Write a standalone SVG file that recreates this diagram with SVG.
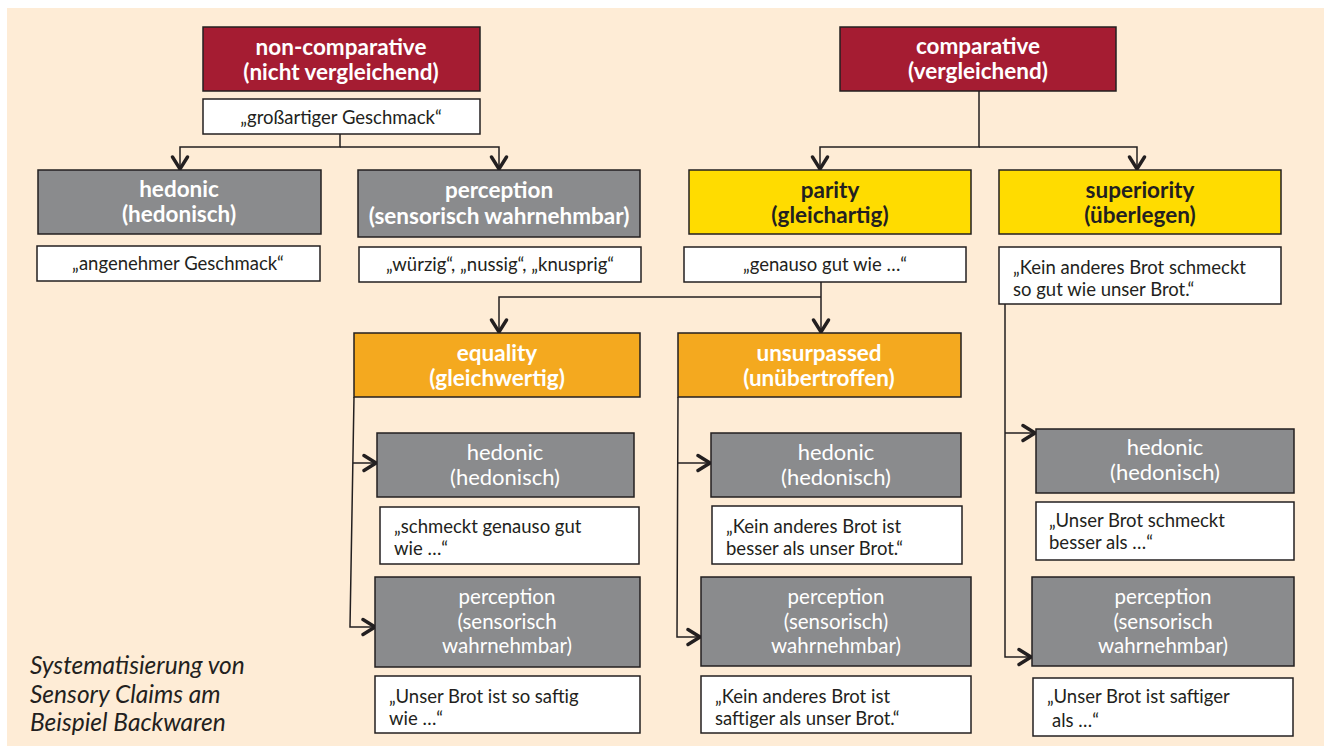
<svg xmlns="http://www.w3.org/2000/svg" width="1324" height="749" viewBox="0 0 1324 749">
<defs>
<marker id="chev" markerUnits="userSpaceOnUse" viewBox="0 0 18 20" refX="15" refY="10" markerWidth="18" markerHeight="20" orient="auto">
<path d="M3,2.5 L15,10 L3,17.5" fill="none" stroke="#231f20" stroke-width="3.4" stroke-linecap="round" stroke-linejoin="miter"/>
</marker>
<style>
.box{stroke:#231f20;stroke-width:1.5}
.red{fill:#a51c32}
.gray{fill:#8a8b8d}
.yel{fill:#ffdc00}
.org{fill:#f4a91f}
.wht{fill:#ffffff}
.t{font-family:Lato,"Open Sans","Liberation Sans",sans-serif}
.hb{font-size:22.5px;font-weight:bold;fill:#ffffff;text-anchor:middle}
.hd{font-size:22.5px;font-weight:bold;fill:#231f20;text-anchor:middle}
.hl{font-size:22px;fill:#ffffff;text-anchor:middle}
.h3{font-size:20.5px;fill:#ffffff;text-anchor:middle}
.q{font-size:18.5px;fill:#231f20}
.qc{font-size:18.5px;fill:#231f20;text-anchor:middle}
.cap{font-size:24.5px;font-style:italic;fill:#231f20}
.con{fill:none;stroke:#231f20;stroke-width:1.5}
</style>
</defs>
<rect x="7" y="8" width="1317" height="738" fill="#feecd6"/>

<g id="connectors">
<path class="con" d="M340,134 V147 H180 V169" marker-end="url(#chev)"/>
<path class="con" d="M340,147 H499 V169" marker-end="url(#chev)"/>
<path class="con" d="M979,91 V147 H820 V169" marker-end="url(#chev)"/>
<path class="con" d="M979,147 H1137 V169" marker-end="url(#chev)"/>
<path class="con" d="M821,282 V332" marker-end="url(#chev)"/>
<path class="con" d="M821,297 H499 V332" marker-end="url(#chev)"/>
<path class="con" d="M354,397 L350,627 H375" marker-end="url(#chev)"/>
<path class="con" d="M353,463 H376" marker-end="url(#chev)"/>
<path class="con" d="M678,397 L677,637 H700" marker-end="url(#chev)"/>
<path class="con" d="M678,463 H710" marker-end="url(#chev)"/>
<path class="con" d="M1005,304 V657 H1031" marker-end="url(#chev)"/>
<path class="con" d="M1005,433 H1035" marker-end="url(#chev)"/>
</g>

<g id="n-noncomp">
<rect class="box red" x="203" y="27" width="277" height="64"/>
<text class="t hb" x="341" y="55">non-comparative</text>
<text class="t hb" x="341" y="80">(nicht vergleichend)</text>
</g>
<g id="q-noncomp">
<rect class="box wht" x="203" y="99" width="277" height="35"/>
<text class="t qc" x="341" y="124">„großartiger Geschmack“</text>
</g>
<g id="n-hedonic1">
<rect class="box gray" x="38" y="170" width="283" height="64"/>
<text class="t hb" x="179" y="197">hedonic</text>
<text class="t hb" x="179" y="222">(hedonisch)</text>
</g>
<g id="q-hedonic1">
<rect class="box wht" x="37" y="246" width="283" height="35"/>
<text class="t qc" x="178" y="270">„angenehmer Geschmack“</text>
</g>
<g id="n-perception1">
<rect class="box gray" x="358" y="170" width="282" height="67"/>
<text class="t hb" x="499" y="198">perception</text>
<text class="t hb" x="499" y="224">(sensorisch wahrnehmbar)</text>
</g>
<g id="q-perception1">
<rect class="box wht" x="359" y="247" width="282" height="35"/>
<text class="t qc" x="500" y="271">„würzig“, „nussig“, „knusprig“</text>
</g>

<g id="n-comp">
<rect class="box red" x="840" y="27" width="276" height="64"/>
<text class="t hb" x="978" y="54">comparative</text>
<text class="t hb" x="978" y="79">(vergleichend)</text>
</g>
<g id="n-parity">
<rect class="box yel" x="689" y="170" width="282" height="64"/>
<text class="t hd" x="830" y="198">parity</text>
<text class="t hd" x="830" y="223">(gleichartig)</text>
</g>
<g id="q-parity">
<rect class="box wht" x="684" y="247" width="282" height="35"/>
<text class="t qc" x="825" y="271">„genauso gut wie …“</text>
</g>
<g id="n-superiority">
<rect class="box yel" x="999" y="170" width="282" height="64"/>
<text class="t hd" x="1140" y="198">superiority</text>
<text class="t hd" x="1140" y="223">(überlegen)</text>
</g>
<g id="q-superiority">
<rect class="box wht" x="999" y="247" width="282" height="57"/>
<text class="t q" x="1013" y="274">„Kein anderes Brot schmeckt</text>
<text class="t q" x="1013" y="296">so gut wie unser Brot.“</text>
</g>

<g id="n-equality">
<rect class="box org" x="354" y="333" width="286" height="64"/>
<text class="t hb" x="497" y="361">equality</text>
<text class="t hb" x="497" y="386">(gleichwertig)</text>
</g>
<g id="n-unsurpassed">
<rect class="box org" x="678" y="333" width="283" height="64"/>
<text class="t hb" x="819" y="361">unsurpassed</text>
<text class="t hb" x="819" y="386">(unübertroffen)</text>
</g>

<g id="n-eq-hedonic">
<rect class="box gray" x="377" y="433" width="257" height="64"/>
<text class="t hl" x="505" y="460">hedonic</text>
<text class="t hl" x="505" y="485">(hedonisch)</text>
</g>
<g id="q-eq-hedonic">
<rect class="box wht" x="380" y="507" width="259" height="57"/>
<text class="t q" x="394" y="533">„schmeckt genauso gut</text>
<text class="t q" x="394" y="555">wie …“</text>
</g>
<g id="n-eq-perception">
<rect class="box gray" x="375" y="577" width="265" height="90"/>
<text class="t h3" x="507" y="604">perception</text>
<text class="t h3" x="507" y="628.5">(sensorisch</text>
<text class="t h3" x="507" y="653">wahrnehmbar)</text>
</g>
<g id="q-eq-perception">
<rect class="box wht" x="375" y="676" width="265" height="57"/>
<text class="t q" x="389" y="703">„Unser Brot ist so saftig</text>
<text class="t q" x="389" y="725">wie …“</text>
</g>

<g id="n-un-hedonic">
<rect class="box gray" x="711" y="433" width="250" height="64"/>
<text class="t hl" x="836" y="460">hedonic</text>
<text class="t hl" x="836" y="485">(hedonisch)</text>
</g>
<g id="q-un-hedonic">
<rect class="box wht" x="712" y="506" width="250" height="58"/>
<text class="t q" x="726" y="533">„Kein anderes Brot ist</text>
<text class="t q" x="726" y="555">besser als unser Brot.“</text>
</g>
<g id="n-un-perception">
<rect class="box gray" x="701" y="577" width="270" height="89"/>
<text class="t h3" x="836" y="604">perception</text>
<text class="t h3" x="836" y="628.5">(sensorisch)</text>
<text class="t h3" x="836" y="653">wahrnehmbar)</text>
</g>
<g id="q-un-perception">
<rect class="box wht" x="701" y="676" width="270" height="57"/>
<text class="t q" x="715" y="703">„Kein anderes Brot ist</text>
<text class="t q" x="715" y="725">saftiger als unser Brot.“</text>
</g>

<g id="n-su-hedonic">
<rect class="box gray" x="1036" y="429" width="258" height="64"/>
<text class="t hl" x="1165" y="455">hedonic</text>
<text class="t hl" x="1165" y="480">(hedonisch)</text>
</g>
<g id="q-su-hedonic">
<rect class="box wht" x="1036" y="502" width="258" height="58"/>
<text class="t q" x="1049" y="527">„Unser Brot schmeckt</text>
<text class="t q" x="1049" y="549">besser als …“</text>
</g>
<g id="n-su-perception">
<rect class="box gray" x="1032" y="577" width="262" height="89"/>
<text class="t h3" x="1163" y="604">perception</text>
<text class="t h3" x="1163" y="628.5">(sensorisch</text>
<text class="t h3" x="1163" y="653">wahrnehmbar)</text>
</g>
<g id="q-su-perception">
<rect class="box wht" x="1033" y="678" width="260" height="58"/>
<text class="t q" x="1047" y="703">„Unser Brot ist saftiger</text>
<text class="t q" x="1052" y="727">als …“</text>
</g>

<g id="caption">
<text class="t cap" x="30" y="674">Systematisierung von</text>
<text class="t cap" x="30" y="703">Sensory Claims am</text>
<text class="t cap" x="30" y="731">Beispiel Backwaren</text>
</g>
</svg>
